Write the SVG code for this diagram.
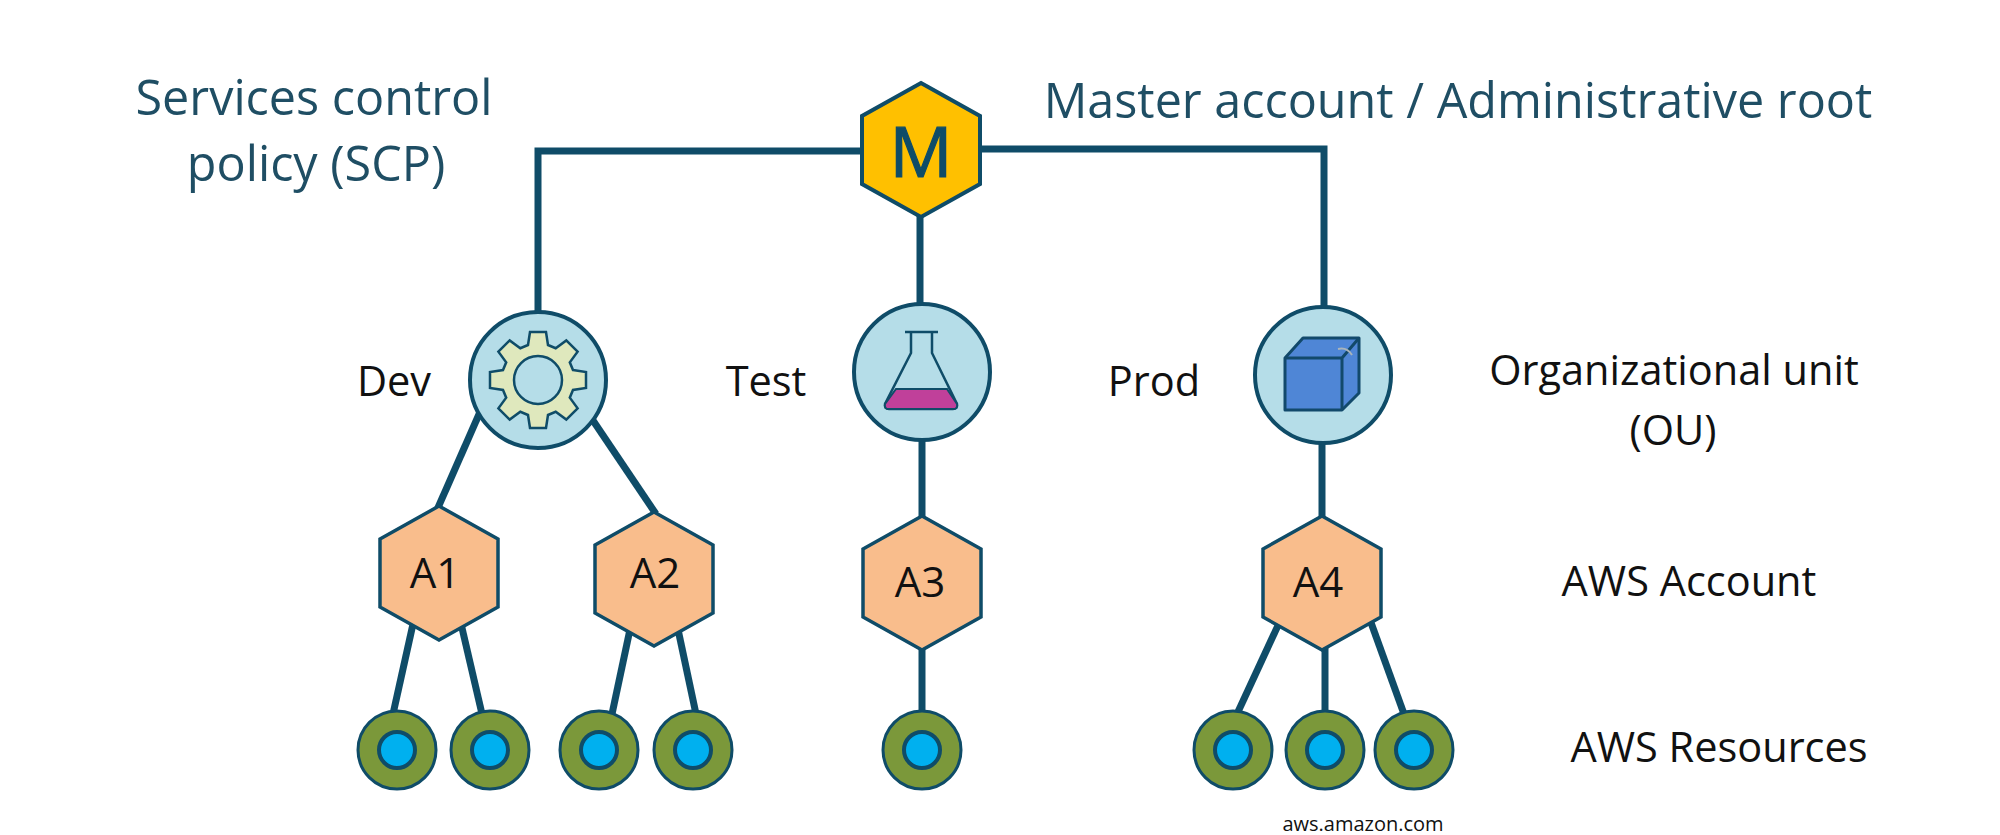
<svg xmlns="http://www.w3.org/2000/svg" width="2000" height="835" viewBox="0 0 2000 835">
<style>
text{font-family:"Open Sans","Noto Sans","Liberation Sans",sans-serif;text-anchor:middle}
.h{font-size:48.5px;fill:#1f4e64}
.l{font-size:41.5px;fill:#111}
.a{font-size:42px;fill:#111}
.c{stroke:#0f4c68;stroke-width:7;fill:none}
.ou{fill:#b5dde8;stroke:#0f4c68;stroke-width:4}
.acc{fill:#f9bd8c;stroke:#0f4c68;stroke-width:3.5}
.ro{fill:#7b983a;stroke:#0f4c68;stroke-width:3}
.ri{fill:#00b0ef;stroke:#0f4c68;stroke-width:4}
</style>
<defs>
<polygon id="hex" points="0,-67 59,-34 59,34 0,67 -59,34 -59,-34"/>
<g id="res"><circle class="ro" r="39"/><circle class="ri" r="18"/></g>
</defs>
<g id="connectors" class="c">
<polyline points="538,312 538,151 920,151"/>
<polyline points="920,149 1324,149 1324,310"/>
<line x1="920" y1="210" x2="920" y2="305"/>
<line x1="480" y1="412" x2="437" y2="510"/>
<line x1="592" y1="419" x2="656" y2="514"/>
<line x1="922" y1="440" x2="922" y2="520"/>
<line x1="1322" y1="440" x2="1322" y2="520"/>
<line x1="415" y1="615" x2="393" y2="714"/>
<line x1="459" y1="615" x2="482" y2="714"/>
<line x1="632" y1="620" x2="612" y2="714"/>
<line x1="676" y1="620" x2="696" y2="714"/>
<line x1="922" y1="645" x2="922" y2="714"/>
<line x1="1287" y1="606" x2="1237" y2="714"/>
<line x1="1325" y1="645" x2="1325" y2="714"/>
<line x1="1365" y1="606" x2="1404" y2="714"/>
</g>
<g id="master"><use href="#hex" x="921" y="150" fill="#ffc000" stroke="#0f4c68" stroke-width="4"/><text x="921" y="177" font-size="70" style="fill:#0f4c68;stroke:#0f4c68;stroke-width:1.2">M</text></g>
<g id="ou-dev"><circle class="ou" cx="538" cy="380" r="68"/>
<path transform="translate(538 380)" fill="#dfe8bd" stroke="#0f4c68" stroke-width="2.5" d="M35,-10L48,-8L48,8L35,10L31.8,17.7L39.6,28.3L28.3,39.6L17.7,31.8L10,35L8,48L-8,48L-10,35L-17.7,31.8L-28.3,39.6L-39.6,28.3L-31.8,17.7L-35,10L-48,8L-48,-8L-35,-10L-31.8,-17.7L-39.6,-28.3L-28.3,-39.6L-17.7,-31.8L-10,-35L-8,-48L8,-48L10,-35L17.7,-31.8L28.3,-39.6L39.6,-28.3L31.8,-17.7Z"/>
<circle cx="538" cy="380" r="24" fill="#b5dde8" stroke="#0f4c68" stroke-width="2.5"/></g>
<g id="ou-test"><circle class="ou" cx="922" cy="372" r="68"/>
<path d="M905,332H938M911,332V353L885,404Q884,409 889,409H953Q958,409 957,404L932,353V332" fill="none" stroke="#0f4c68" stroke-width="2.5"/>
<path d="M896,389H947L957,404Q958,409 953,409H889Q884,409 885,404Z" fill="#c0409a" stroke="#0f4c68" stroke-width="2"/></g>
<g id="ou-prod"><circle class="ou" cx="1323" cy="375" r="68"/>
<path d="M1285,358L1303,338H1359V393L1342,410H1285Z" fill="#4f86d6" stroke="#12496b" stroke-width="3" stroke-linejoin="round"/>
<path d="M1285,358H1342V410M1342,358L1359,338" fill="none" stroke="#12496b" stroke-width="3"/>
<path d="M1338,349Q1347,347 1352,355" fill="none" stroke="#a9b4bb" stroke-width="2"/></g>
<g id="a1"><use href="#hex" class="acc" x="439" y="573"/><text class="a" x="435" y="588">A1</text></g>
<g id="a2"><use href="#hex" class="acc" x="654" y="579"/><text class="a" x="655" y="588">A2</text></g>
<g id="a3"><use href="#hex" class="acc" x="922" y="583"/><text class="a" x="920" y="597">A3</text></g>
<g id="a4"><use href="#hex" class="acc" x="1322" y="583"/><text class="a" x="1318" y="597">A4</text></g>
<g id="r1"><use href="#res" x="397" y="750"/></g>
<g id="r2"><use href="#res" x="490" y="750"/></g>
<g id="r3"><use href="#res" x="599" y="750"/></g>
<g id="r4"><use href="#res" x="693" y="750"/></g>
<g id="r5"><use href="#res" x="922" y="750"/></g>
<g id="r6"><use href="#res" x="1233" y="750"/></g>
<g id="r7"><use href="#res" x="1325" y="750"/></g>
<g id="r8"><use href="#res" x="1414" y="750"/></g>
<g id="labels">
<text class="h" x="314" y="115">Services control</text>
<text class="h" x="316" y="181">policy (SCP)</text>
<text class="h" x="1458" y="118">Master account / Administrative root</text>
<text class="l" x="394" y="396">Dev</text>
<text class="l" x="766" y="396">Test</text>
<text class="l" x="1154" y="396">Prod</text>
<text class="l" x="1674" y="385">Organizational unit</text>
<text class="l" x="1673" y="445">(OU)</text>
<text class="l" x="1689" y="596">AWS Account</text>
<text class="l" x="1719" y="762">AWS Resources</text>
<text x="1363" y="831" font-size="20" fill="#111">aws.amazon.com</text>
</g>
</svg>
